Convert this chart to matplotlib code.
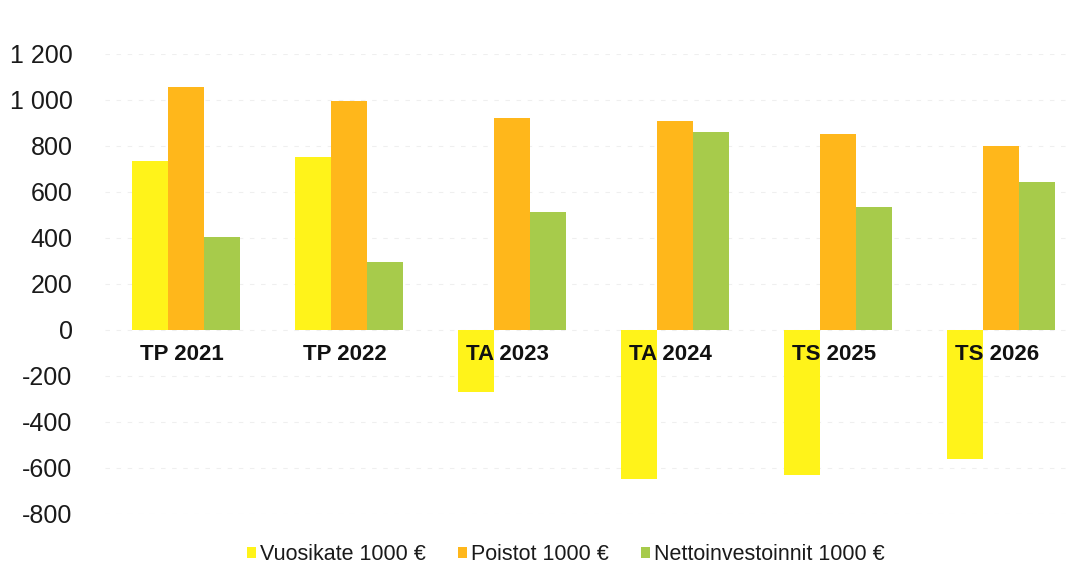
import matplotlib
matplotlib.use("Agg")
import matplotlib.pyplot as plt
import numpy as np

categories = ["TP 2021", "TP 2022", "TA 2023", "TA 2024", "TS 2025", "TS 2026"]
vuosikate = [735, 750, -270, -650, -630, -560]
poistot = [1055, 995, 920, 910, 850, 800]
netto = [405, 295, 515, 860, 535, 645]
series_names = ["Vuosikate 1000 €", "Poistot 1000 €", "Nettoinvestoinnit 1000 €"]
colors = ["#FFF31A", "#FFB71B", "#A7CB4B"]
yticks = [-800, -600, -400, -200, 0, 200, 400, 600, 800, 1000, 1200]

plt.rcParams["font.family"] = ["Liberation Sans", "DejaVu Sans"]

fig = plt.figure(figsize=(10.67, 5.69), dpi=100)
ax = fig.add_axes([0.098, 0.0967, 0.902, 0.8084])

x = np.arange(len(categories))
w = 0.222
handles = []
for k, (vals, c) in enumerate(zip([vuosikate, poistot, netto], colors)):
    h = ax.bar(x + (k - 1) * w, vals, width=w, color=c, edgecolor="none",
               zorder=2, label=series_names[k])
    handles.append(h)

ax.set_xlim(-0.5, 5.405)
ax.set_ylim(-800, 1200)
ax.set_yticks(yticks)
ax.set_yticklabels([f"{v:,}".replace(",", " ") for v in yticks])
ax.tick_params(axis="y", length=0, pad=23, labelsize=18, labelcolor="#1a1a1a")
ax.set_xticks([])
for s in ax.spines.values():
    s.set_visible(False)
ax.grid(axis="y", color="#efefef", lw=0.8, ls=(0, (4, 6)), zorder=0)

for i, cat in enumerate(categories):
    ax.annotate(cat, xy=(i, 0), xytext=(-3, -18), textcoords="offset points",
                ha="center", va="center", fontsize=16, fontweight="bold",
                color="#111111", zorder=5)

fig.legend(handles=handles, labels=series_names, loc="lower center",
           bbox_to_anchor=(0.53, -0.027), ncol=3, frameon=False,
           fontsize=15.5, handlelength=0.45, handleheight=0.45,
           handletextpad=0.15, columnspacing=1.5, labelcolor="#1a1a1a")

fig.savefig("out.png", dpi=100)
